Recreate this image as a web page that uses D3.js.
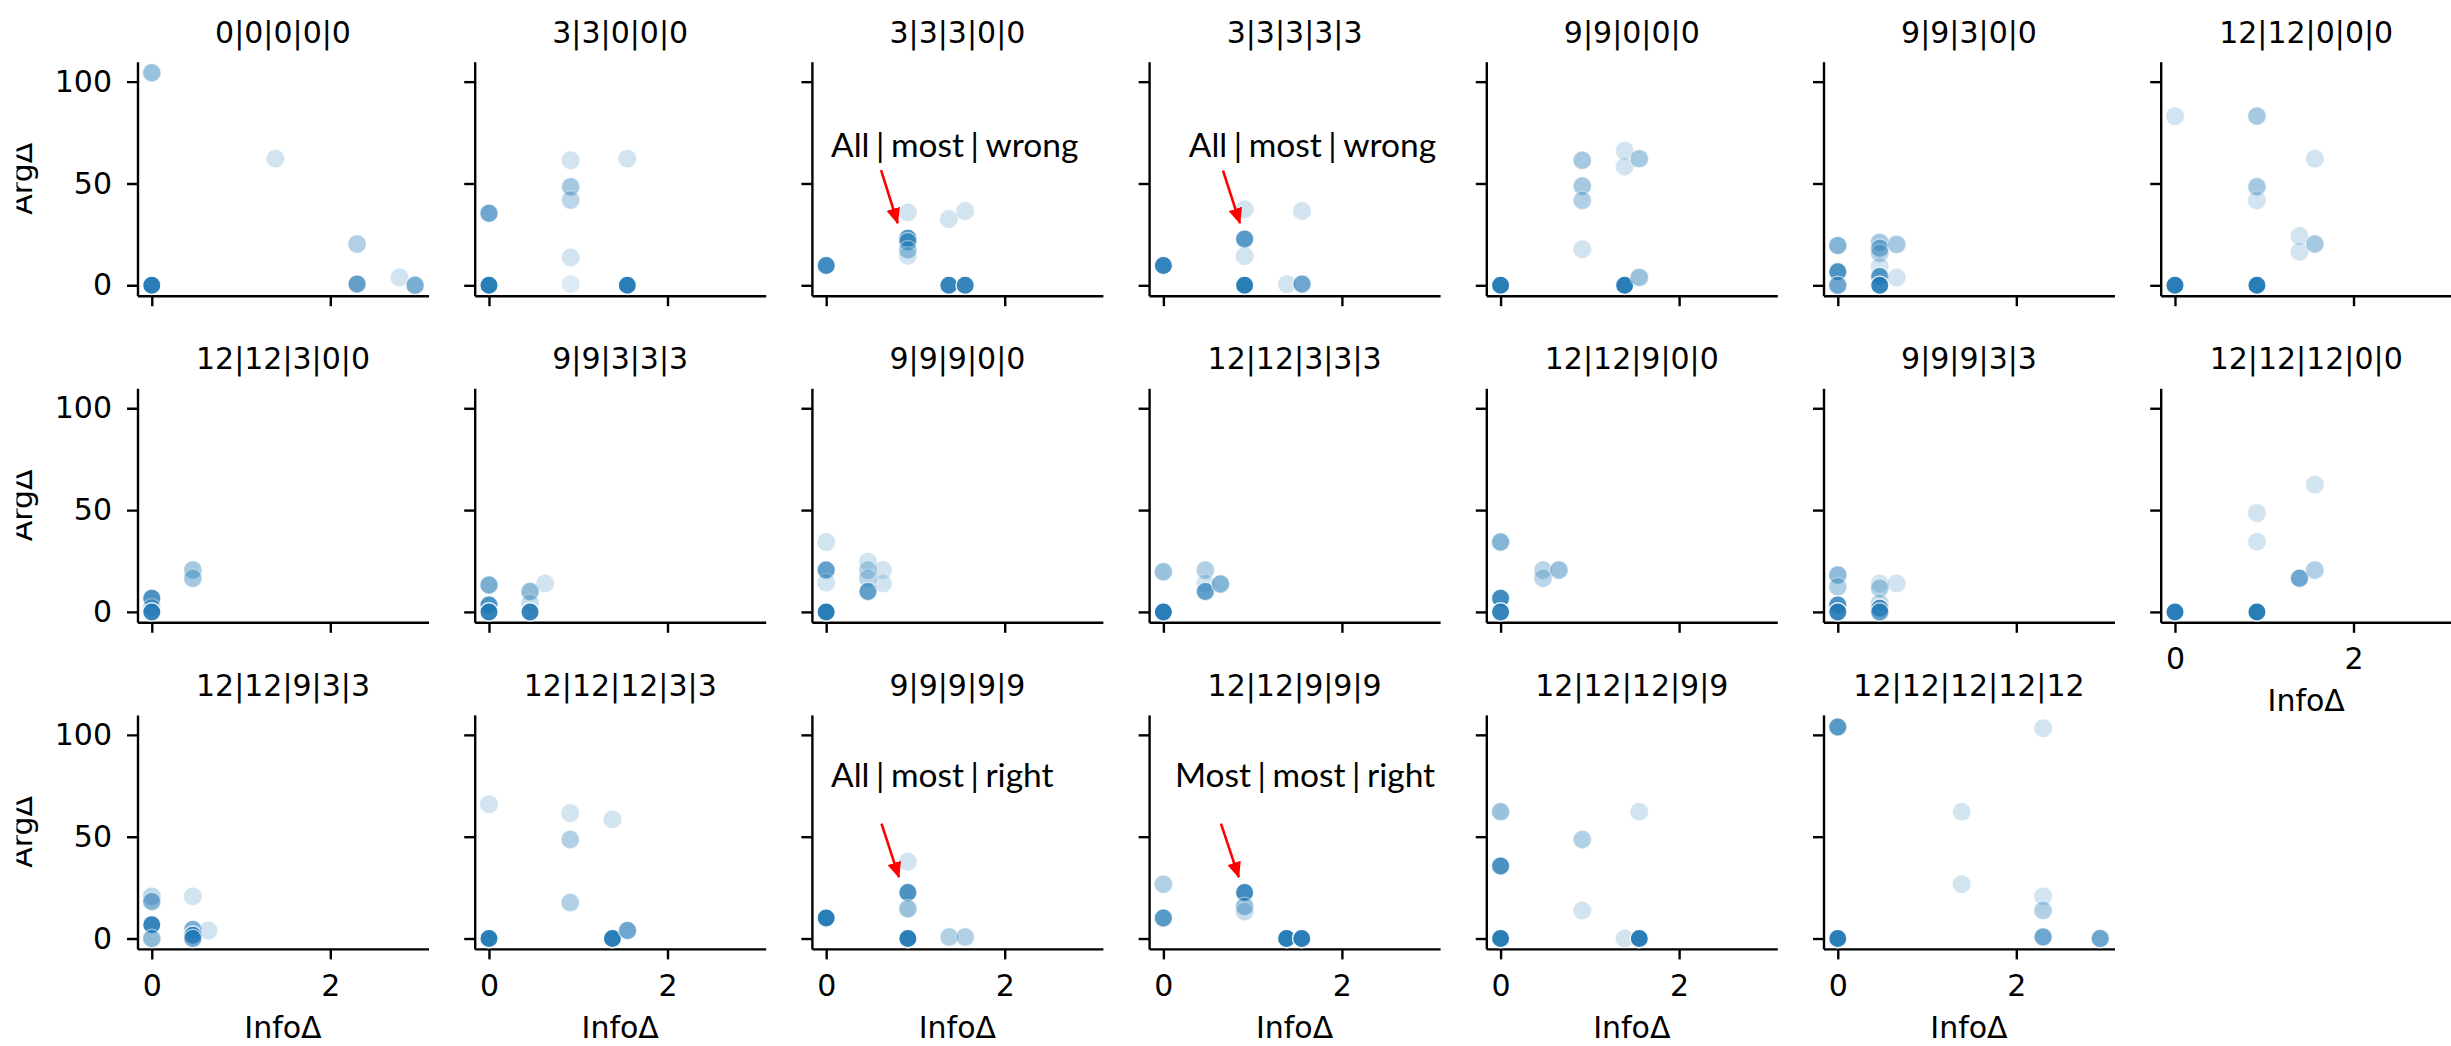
<!DOCTYPE html>
<html>
<head>
<meta charset="utf-8">
<script src="https://cdn.jsdelivr.net/npm/d3@7"></script>
<style>
  html, body { margin: 0; padding: 0; background: #fff; overflow: hidden; }
  svg { display: block; }
</style>
</head>
<body>
<svg id="chart" width="2451" height="1046"></svg>
<script>
// Facet titles, one per panel (row-major, 7 per row)
const panelTitles = [
  "0|0|0|0|0", "3|3|0|0|0", "3|3|3|0|0", "3|3|3|3|3", "9|9|0|0|0", "9|9|3|0|0", "12|12|0|0|0",
  "12|12|3|0|0", "9|9|3|3|3", "9|9|9|0|0", "12|12|3|3|3", "12|12|9|0|0", "9|9|9|3|3", "12|12|12|0|0",
  "12|12|9|3|3", "12|12|12|3|3", "9|9|9|9|9", "12|12|9|9|9", "12|12|12|9|9", "12|12|12|12|12"
];

// InfoΔ per point, per panel
const infoDelta = [
  [0, 0, 1.385, 2.3, 2.3, 2.775, 2.95],
  [0, 0, 0.915, 0.915, 0.915, 0.915, 0.915, 1.55, 1.55],
  [0, 0.915, 0.915, 0.915, 0.915, 0.915, 1.375, 1.557, 1.375, 1.557],
  [0, 0.91, 0.91, 0.91, 0.91, 1.385, 1.553, 1.553],
  [0, 0.915, 0.915, 0.915, 0.915, 1.39, 1.39, 1.554, 1.39, 1.554],
  [0, 0, 0, 0.47, 0.47, 0.47, 0.47, 0.47, 0.47, 0.66, 0.66],
  [0, 0, 0.918, 0.918, 0.918, 0.918, 1.567, 1.395, 1.395, 1.567],
  [0, 0, 0, 0.46, 0.46],
  [0, 0, 0, 0.46, 0.46, 0.46, 0.63],
  [0, 0, 0, 0, 0.468, 0.468, 0.468, 0.468, 0.637, 0.637],
  [0, 0, 0.47, 0.47, 0.47, 0.64],
  [0, 0, 0, 0.476, 0.476, 0.654],
  [0, 0, 0, 0, 0.47, 0.47, 0.47, 0.47, 0.47, 0.66],
  [0, 0.918, 0.918, 0.918, 1.395, 1.567, 1.567],
  [0, 0, 0, 0, 0.46, 0.46, 0.46, 0.46, 0.635],
  [0, 0, 0.91, 0.91, 0.91, 1.383, 1.383, 1.552],
  [0, 0.915, 0.915, 0.915, 0.915, 1.378, 1.557],
  [0, 0, 0.91, 0.91, 0.91, 1.38, 1.55],
  [0, 0, 0, 0.915, 0.915, 1.554, 1.39, 1.554],
  [0, 0, 1.388, 1.388, 2.3, 2.3, 2.3, 2.3, 2.94]
];

// ArgΔ per point, per panel
const argDelta = [
  [104.4, 0, 62.2, 20.3, 0.6, 3.8, 0],
  [35.4, 0, 61.4, 48.4, 41.9, 13.7, 0.6, 62.2, 0],
  [9.7, 35.8, 23.1, 21.4, 17.5, 14.5, 32.6, 36.5, 0, 0],
  [9.7, 37.3, 22.7, 14.4, 0, 0.6, 0.6, 36.5],
  [0, 61.4, 48.8, 41.6, 17.7, 66.1, 58.3, 62.2, 0, 3.9],
  [19.5, 6.7, 0, 21.1, 18.2, 15.7, 9.2, 4.3, 0, 20.1, 3.8],
  [83.1, 0, 83.1, 48.4, 41.6, 0, 62.2, 24.2, 16.5, 20.3],
  [6.7, 2, 0, 20.6, 16.5],
  [13.2, 3.4, 0, 10, 4.2, 0, 14],
  [34.3, 20.6, 14.4, 0, 24.6, 20.6, 16.5, 10, 20.6, 14],
  [19.7, 0, 20.6, 14, 10, 13.7],
  [34.3, 6.7, 0, 20.6, 16.5, 20.6],
  [18.1, 12.4, 3.4, 0, 14, 11.6, 4.2, 1.8, 0, 14],
  [0, 48.6, 34.4, 0, 16.5, 62.5, 20.6],
  [20.7, 18.2, 6.8, 0, 20.7, 4.4, 1.6, 0, 3.9],
  [65.9, 0, 61.6, 48.6, 17.7, 58.5, 0, 3.9],
  [10.1, 37.7, 22.6, 14.6, 0, 0.8, 0.8],
  [26.7, 10.1, 22.6, 15.8, 13.3, 0, 0],
  [62.3, 35.6, 0, 48.6, 13.8, 62.3, 0, 0],
  [103.9, 0, 62.3, 26.7, 103.3, 20.7, 13.8, 0.8, 0]
];

// Share of runs behind each point (drives point opacity)
const share = [
  [0.45, 0.95, 0.2, 0.35, 0.7, 0.2, 0.6],
  [0.65, 0.95, 0.2, 0.4, 0.3, 0.2, 0.15, 0.2, 0.95],
  [0.85, 0.2, 0.8, 0.5, 0.4, 0.2, 0.2, 0.2, 0.9, 0.9],
  [0.9, 0.2, 0.75, 0.2, 0.95, 0.2, 0.65, 0.2],
  [0.95, 0.4, 0.4, 0.35, 0.2, 0.2, 0.2, 0.4, 0.95, 0.45],
  [0.55, 0.8, 0.65, 0.4, 0.5, 0.3, 0.2, 0.75, 0.9, 0.4, 0.2],
  [0.2, 0.95, 0.4, 0.4, 0.2, 0.95, 0.2, 0.2, 0.2, 0.4],
  [0.8, 0.4, 0.9, 0.4, 0.4],
  [0.6, 0.8, 0.9, 0.5, 0.25, 0.9, 0.2],
  [0.2, 0.7, 0.2, 0.95, 0.2, 0.3, 0.3, 0.7, 0.2, 0.2],
  [0.45, 0.95, 0.35, 0.2, 0.7, 0.55],
  [0.55, 0.85, 0.9, 0.3, 0.3, 0.45],
  [0.5, 0.35, 0.8, 0.9, 0.2, 0.35, 0.3, 0.8, 0.7, 0.2],
  [0.95, 0.2, 0.2, 0.95, 0.65, 0.2, 0.35],
  [0.3, 0.55, 0.9, 0.5, 0.2, 0.6, 0.85, 0.6, 0.2],
  [0.2, 0.95, 0.2, 0.35, 0.35, 0.2, 0.95, 0.65],
  [0.95, 0.2, 0.8, 0.45, 0.95, 0.35, 0.35],
  [0.35, 0.75, 0.85, 0.45, 0.25, 0.95, 0.95],
  [0.45, 0.8, 0.95, 0.35, 0.2, 0.2, 0.2, 0.95],
  [0.75, 0.95, 0.2, 0.2, 0.2, 0.2, 0.35, 0.65, 0.65]
];

const xTicks = [0, 2];
const yTicks = [0, 50, 100];

// Callouts: label, panel, label anchor and arrow (InfoΔ, ArgΔ)
const noteText = ["All|most|wrong", "All|most|wrong", "All|most|right", "Most|most|right"];
const notePanel = [2, 3, 16, 17];
const noteTextAt = [[0.055, 63.2], [0.285, 63.2], [0.055, 74.6], [0.13, 74.6]];
const noteArrowFrom = [[0.615, 56.6], [0.668, 56.3], [0.62, 56.4], [0.645, 56.4]];
const noteArrowTo = [[0.801, 30.5], [0.858, 30.5], [0.815, 30.1], [0.845, 30.1]];

// ---- layout ----
const nCols = 7;
const left0 = 137.5, colStep = 337.2;
const top0 = 61.7, rowStep = 326.6;
const pw = 291, ph = 234;
const font = "DejaVu Sans, sans-serif";
const fs = 30;
const lineW = 2.4;
const blue = "#1f77b4";

const svg = d3.select("#chart");

const x = d3.scaleLinear().domain([-0.16, 3.1]).range([0, pw]);
const y = d3.scaleLinear().domain([-5.1, 109.8]).range([ph, 0]);

const defs = svg.append("defs");
defs.append("clipPath").attr("id", "page")
  .append("rect").attr("x", 16.5).attr("y", 0).attr("width", 2451).attr("height", 1046);

defs.append("marker")
  .attr("id", "head").attr("markerUnits", "userSpaceOnUse")
  .attr("viewBox", "0 0 16 14").attr("refX", 15).attr("refY", 7)
  .attr("markerWidth", 16).attr("markerHeight", 14).attr("orient", "auto")
  .append("path").attr("d", "M0,0 L16,7 L0,14 Z").attr("fill", "red");

const root = svg.append("g").attr("clip-path", "url(#page)");

const nPanels = panelTitles.length;

panelTitles.forEach((title, i) => {
  const r = Math.floor(i / nCols), c = i % nCols;
  const g = root.append("g")
    .attr("transform", `translate(${left0 + c * colStep},${top0 + r * rowStep})`);

  // panels with nothing below them carry x tick labels
  const showX = (i + nCols) >= nPanels;
  const showY = c === 0;

  const xa = d3.axisBottom(x).tickValues(xTicks).tickSize(10.5).tickSizeOuter(0).tickPadding(15)
    .tickFormat(showX ? d3.format("d") : () => "");
  const ya = d3.axisLeft(y).tickValues(yTicks).tickSize(10.5).tickSizeOuter(0).tickPadding(15)
    .tickFormat(showY ? d3.format("d") : () => "");

  const gx = g.append("g").attr("transform", `translate(0,${ph})`).call(xa);
  const gy = g.append("g").call(ya);
  [gx, gy].forEach(a => {
    a.selectAll("path, line").attr("stroke", "#000").attr("stroke-width", lineW);
    a.selectAll("text").attr("font-family", font).attr("font-size", fs).attr("fill", "#000");
  });

  // points
  const pts = infoDelta[i].map((v, k) => ({ xv: v, yv: argDelta[i][k], a: share[i][k] }));
  g.append("g").selectAll("circle").data(pts).join("circle")
    .attr("cx", d => x(d.xv)).attr("cy", d => y(d.yv)).attr("r", 9.2)
    .attr("fill", blue).attr("fill-opacity", d => d.a)
    .attr("stroke", "#fff").attr("stroke-width", 1.44).attr("stroke-opacity", d => d.a);

  // facet title
  g.append("text").attr("x", pw / 2).attr("y", -19)
    .attr("text-anchor", "middle").attr("font-family", font).attr("font-size", fs)
    .text(title);

  if (showX) {
    g.append("text").attr("x", pw / 2).attr("y", ph + 89)
      .attr("text-anchor", "middle").attr("font-family", font).attr("font-size", fs)
      .text("InfoΔ");
  }
  if (showY) {
    g.append("text")
      .attr("transform", `translate(${32 - left0},${ph / 2}) rotate(-90)`)
      .attr("text-anchor", "middle").attr("font-family", font).attr("font-size", fs)
      .text("ArgΔ");
  }
});

// callouts: words separated by pipes, with a little air around each pipe
noteText.forEach((t, j) => {
  const i = notePanel[j];
  const r = Math.floor(i / nCols), c = i % nCols;
  const g = root.append("g")
    .attr("transform", `translate(${left0 + c * colStep},${top0 + r * rowStep})`);
  const txt = g.append("text")
    .attr("x", x(noteTextAt[j][0])).attr("y", y(noteTextAt[j][1]))
    .attr("font-family", "Lato, 'Open Sans', sans-serif").attr("font-size", 33.5)
    .attr("fill", "#000");
  t.split("|").forEach((word, k) => {
    if (k > 0) txt.append("tspan").attr("dx", 6.5).text("|");
    txt.append("tspan").attr("dx", k > 0 ? 6.5 : 0).text(word);
  });
  g.append("line")
    .attr("x1", x(noteArrowFrom[j][0])).attr("y1", y(noteArrowFrom[j][1]))
    .attr("x2", x(noteArrowTo[j][0])).attr("y2", y(noteArrowTo[j][1]))
    .attr("stroke", "red").attr("stroke-width", 2.6)
    .attr("marker-end", "url(#head)");
});
</script>
</body>
</html>
